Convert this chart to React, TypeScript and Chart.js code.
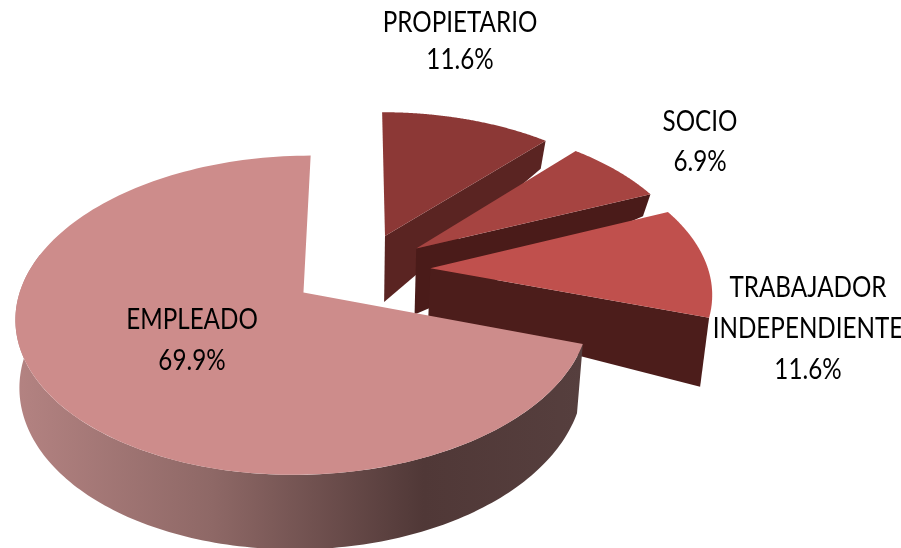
import React, { useEffect, useRef } from "react";
import { Chart, registerables } from "chart.js";

Chart.register(...registerables);

const categories = [["PROPIETARIO"], ["SOCIO"], ["TRABAJADOR", "INDEPENDIENTE"], ["EMPLEADO"]];
const values = [11.6, 6.9, 11.6, 69.9];
const topColors = ["#8C3836", "#A64441", "#C0504D", "#CD8C8B"];
const wallColors = ["#5A2422", "#4A1B19", "#4C1D1B", "#553E3D"];
const apexDepth = [66, 66, 49, 0];
const edgeDepth = [28, 22, 69, 0];
const labelAnchors = [
  [460, 23],
  [700, 122],
  [808, 288],
  [192, 320],
];
const labelLeading = [37, 40, 41, 41];

const EXPLODE = 50;
const RADIUS = 200;
const VIEW = { cx: 361, cy: 270, fx: 278, fy: 150, q: 0.14 };

function project(a: number, b: number) {
  const w = 1 - VIEW.q * b;
  return { x: VIEW.cx + (VIEW.fx * a) / w, y: VIEW.cy + (VIEW.fy * b) / w, w };
}
function drop(p: { x: number; y: number }, d: number) {
  const k = p.x < 350 ? 0.012 : 0.025;
  return { x: p.x + (350 - p.x) * k, y: p.y + d };
}

const pie3d = {
  id: "pie3d",
  beforeDatasetDraw(chart: any) {
    const ctx: CanvasRenderingContext2D = chart.ctx;
    const arcs = chart.getDatasetMeta(0).data;
    arcs.forEach((arc: any, i: number) => {
      const { startAngle, endAngle, outerRadius } = arc.getProps(["startAngle", "endAngle", "outerRadius"], true);
      const mid = (startAngle + endAngle) / 2;
      const off = arc.options.offset / outerRadius;
      const a0 = Math.cos(mid) * off;
      const b0 = Math.sin(mid) * off;
      const at = (t: number) => project(a0 + Math.cos(t), b0 + Math.sin(t));
      const apex = project(a0, b0);
      const N = 160;

      if (apexDepth[i] > 0) {
        const edge = at(endAngle);
        const b1 = drop(edge, edgeDepth[i]);
        const b2 = drop(apex, apexDepth[i]);
        ctx.beginPath();
        ctx.moveTo(apex.x, apex.y);
        ctx.lineTo(edge.x, edge.y);
        ctx.lineTo(b1.x, b1.y);
        ctx.lineTo(b2.x, b2.y);
        ctx.closePath();
        ctx.fillStyle = wallColors[i];
        ctx.fill();
      } else {
        const stop = startAngle + (endAngle - startAngle) * 0.7;
        const pts: { x: number; y: number; w: number }[] = [];
        for (let k = 0; k <= N; k++) pts.push(at(startAngle + ((stop - startAngle) * k) / N));
        const g = ctx.createLinearGradient(14, 0, 583, 0);
        g.addColorStop(0, "#B48382");
        g.addColorStop(0.35, "#8E6866");
        g.addColorStop(0.72, "#503837");
        g.addColorStop(1, "#563F3E");
        ctx.beginPath();
        pts.forEach((p, k) => (k ? ctx.lineTo(p.x, p.y) : ctx.moveTo(p.x, p.y)));
        for (let k = N; k >= 0; k--) {
          const d = 66 / Math.pow(pts[k].w, 0.7);
          const q = drop(pts[k], d);
          ctx.lineTo(q.x, q.y);
        }
        ctx.closePath();
        ctx.fillStyle = g;
        ctx.fill();
      }

      ctx.beginPath();
      ctx.moveTo(apex.x, apex.y);
      for (let k = 0; k <= N; k++) {
        const p = at(startAngle + ((endAngle - startAngle) * k) / N);
        ctx.lineTo(p.x, p.y);
      }
      ctx.closePath();
      ctx.fillStyle = arc.options.backgroundColor;
      ctx.fill();
    });
    return false;
  },
  afterDatasetsDraw(chart: any) {
    const ctx: CanvasRenderingContext2D = chart.ctx;
    ctx.save();
    ctx.fillStyle = "#000000";
    ctx.font = "28px Lato";
    ctx.textAlign = "center";
    ctx.textBaseline = "middle";
    const sx = 0.865;
    categories.forEach((lines, i) => {
      const [x, y] = labelAnchors[i];
      const rows = [...lines, values[i].toFixed(1) + "%"];
      rows.forEach((t, r) => {
        ctx.save();
        ctx.translate(x, y + r * labelLeading[i]);
        ctx.scale(sx, 1);
        ctx.fillText(t, 0, 0);
        ctx.restore();
      });
    });
    ctx.restore();
  },
};

export default function App() {
  const ref = useRef<HTMLCanvasElement>(null);
  useEffect(() => {
    document.body.style.margin = "0";
    document.body.style.background = "#ffffff";
    const chart = new Chart(ref.current as HTMLCanvasElement, {
      type: "pie",
      data: {
        labels: categories.map((c) => c.join(" ")),
        datasets: [{ data: values, backgroundColor: topColors, offset: EXPLODE, borderWidth: 0 }],
      },
      options: {
        responsive: false,
        animation: false,
        radius: RADIUS,
        plugins: { legend: { display: false }, tooltip: { enabled: false } },
      } as any,
      plugins: [pie3d as any],
    });
    return () => chart.destroy();
  }, []);
  return <canvas ref={ref} width={901} height={548} style={{ display: "block" }} />;
}
